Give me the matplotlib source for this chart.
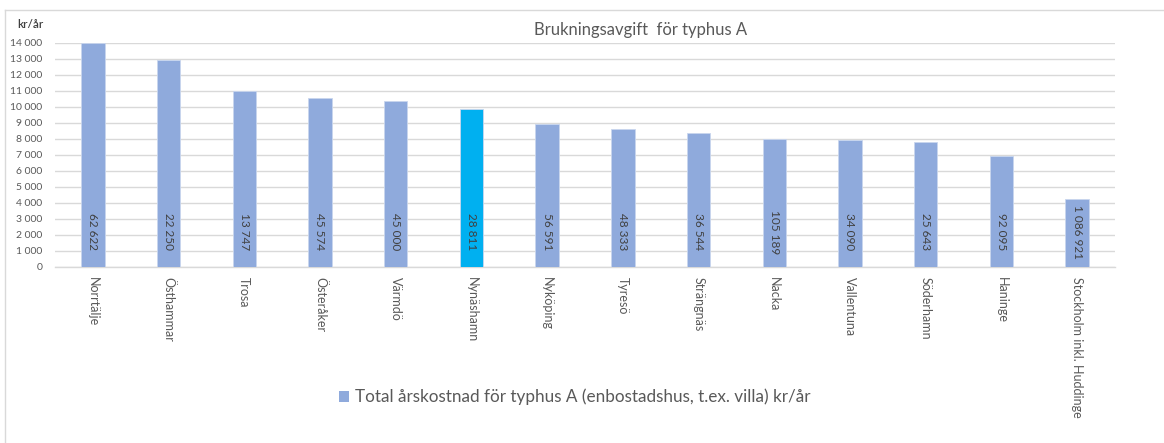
import matplotlib
matplotlib.use("Agg")
import matplotlib.pyplot as plt
from matplotlib.lines import Line2D
from matplotlib.patches import Patch

categories = ["Norrtälje", "Östhammar", "Trosa", "Österåker", "Värmdö", "Nynäshamn",
              "Nyköping", "Tyresö", "Strängnäs", "Nacka", "Vallentuna", "Söderhamn",
              "Haninge", "Stockholm inkl. Huddinge"]
values = [14000, 12920, 10980, 10590, 10370, 9850, 8960, 8620, 8400, 8020, 7950, 7800, 6960, 4220]
populations = [62622, 22250, 13747, 45574, 45000, 28811, 56591, 48333, 36544, 105189,
               34090, 25643, 92095, 1086921]
highlight = "Nynäshamn"
yticks = list(range(0, 14001, 1000))

title = "Brukningsavgift  för typhus A"
unit = "kr/år"
legend_label = "Total årskostnad för typhus A (enbostadshus, t.ex. villa) kr/år"

plt.rcParams['font.family'] = ['Lato', 'DejaVu Sans']
TXT = "#595959"
BAR = "#8FAADC"
HL = "#00B0F0"
GRID = "#D9D9D9"

def fmt(n):
    return f"{n:,}".replace(",", " ")

W, H = 1164, 443
fig = plt.figure(figsize=(W / 100, H / 100), dpi=100)
ax = fig.add_axes([55 / W, 1 - 267 / H, (1115 - 55) / W, (267 - 43) / H])

x = list(range(len(categories)))
colors = [HL if c == highlight else BAR for c in categories]
ax.bar(x, values, width=0.31, color=colors, edgecolor="#C9D6EE", linewidth=0.6, zorder=3)

for xi, p in zip(x, populations):
    ax.text(xi, 2200, fmt(p), rotation=-90, ha="center", va="center",
            fontsize=8.5, color="#404040", zorder=4)

ax.set_xlim(-0.5, len(categories) - 0.5)
ax.set_ylim(0, 14000)
ax.set_yticks(yticks)
ax.set_yticklabels([fmt(v) for v in yticks], fontsize=7.5, color=TXT)
ax.yaxis.grid(True, color=GRID, linewidth=1, zorder=0)
ax.set_axisbelow(True)
ax.tick_params(axis="y", length=0, pad=9)
ax.set_xticks(x)
ax.set_xticklabels(categories, rotation=-90, fontsize=9, color=TXT, va="top", ha="center")
ax.tick_params(axis="x", length=0, pad=7)
for s in ["top", "right", "left"]:
    ax.spines[s].set_visible(False)
ax.spines["bottom"].set_color(GRID)
ax.spines["bottom"].set_linewidth(1)

fig.text(641 / W, 1 - 30 / H, title, ha="center", va="center", fontsize=12, color=TXT)
fig.text(17 / W, 1 - 24 / H, unit, ha="left", va="center", fontsize=8.5, color="#404040",
         fontweight="semibold")

fig.legend(handles=[Patch(facecolor=BAR, edgecolor="none")], labels=[legend_label],
           loc="center", bbox_to_anchor=(575 / W, 1 - 397 / H), frameon=False,
           fontsize=12.3, labelcolor=TXT, handlelength=0.6, handleheight=0.6,
           handletextpad=0.35)

# chart border (top and left edges visible)
fig.add_artist(Line2D([5 / W, 1.0], [1 - 10 / H, 1 - 10 / H], color=GRID, lw=1))
fig.add_artist(Line2D([5 / W, 5 / W], [0, 1 - 10 / H], color=GRID, lw=1))

fig.savefig("out.png", dpi=100, facecolor="white")
